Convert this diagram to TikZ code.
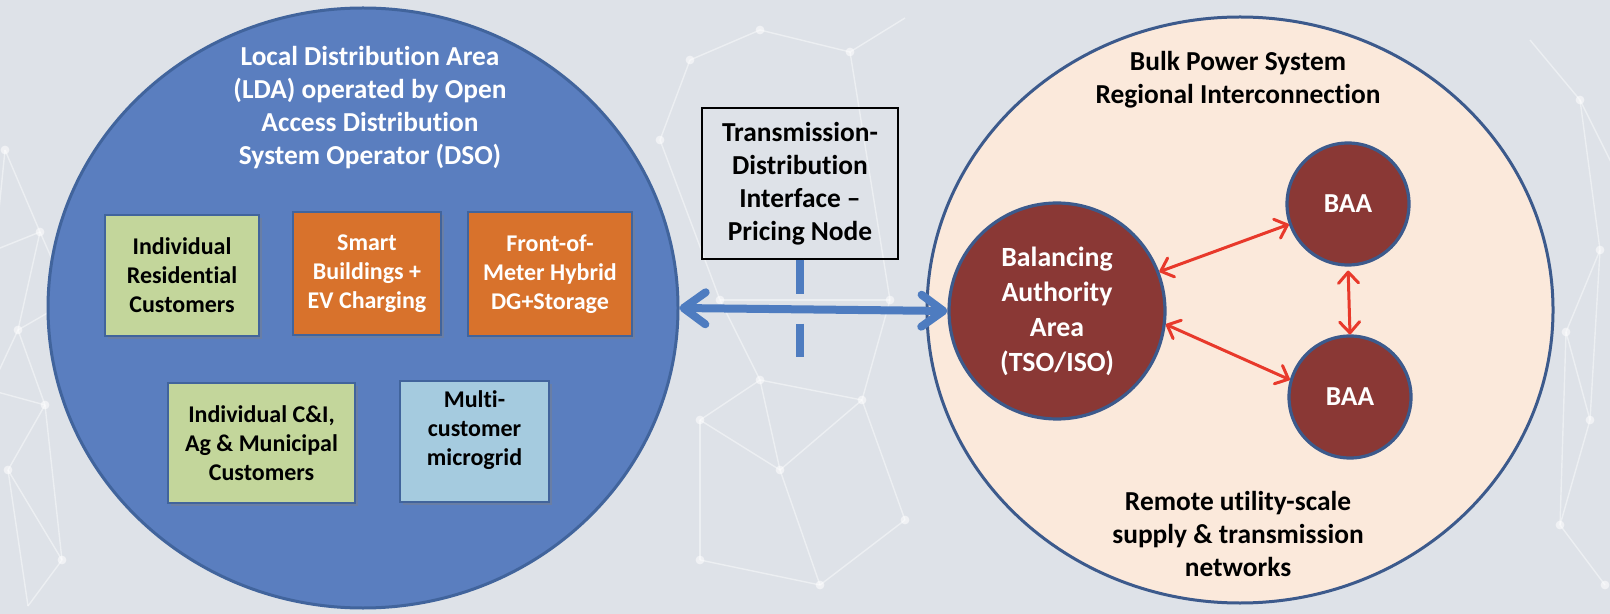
\documentclass[tikz,border=0pt]{standalone}
\usepackage{fontspec}
\setmainfont{Carlito}[Ligatures={NoCommon}]
\usetikzlibrary{arrows.meta,shapes.geometric,shadows}

\definecolor{bg}{HTML}{DEE2E8}
\definecolor{ldablue}{HTML}{5A7EBF}
\definecolor{ldaedge}{HTML}{41649C}
\definecolor{peach}{HTML}{FBE9DB}
\definecolor{navy}{HTML}{3C5A8C}
\definecolor{maroon}{HTML}{8A3835}
\definecolor{boxgreen}{HTML}{C3D69B}
\definecolor{boxorange}{HTML}{D8722C}
\definecolor{boxblue}{HTML}{A5CBDF}
\definecolor{arrowred}{HTML}{E8392B}
\definecolor{arrowblue}{HTML}{4E7CC0}

\begin{document}
\begin{tikzpicture}[x=0.5pt,y=-0.5pt,
  bigtext/.style={font=\fontsize{13.7}{16.5}\selectfont\bfseries, align=center},
  boxtext/.style={font=\fontsize{12}{14.5}\selectfont\bfseries, align=center},
  area/.style={ellipse, draw=navy, line width=1.5pt, inner sep=0pt},
  member/.style={rectangle, draw=ldaedge, line width=1pt, inner sep=0pt, boxtext,
    drop shadow={shadow xshift=1.5pt, shadow yshift=-1.5pt, opacity=0.4}},
  baa/.style={circle, fill=maroon, draw=navy, line width=1.6pt, inner sep=0pt,
    text=white, bigtext},
  redlink/.style={draw=arrowred, line width=1.5pt,
    {Straight Barb[length=5.5pt,width=10pt,round]}-{Straight Barb[length=5.5pt,width=10pt,round]}},
  bluelink/.style={draw=arrowblue, line width=4pt,
    {Straight Barb[length=11pt,width=16pt,round]}-{Straight Barb[length=11pt,width=16pt,round]}},
  netline/.style={draw=white, line width=0.7pt, opacity=0.45},
  netdot/.style={fill=white, opacity=0.55}
]
% canvas
\useasboundingbox (0,0) rectangle (1610,614);
\fill[bg] (0,0) rectangle (1610,614);

% faint network in the background
\begin{scope}
\clip (0,0) rectangle (1610,614);
\foreach \n/\x/\y in {a1/5/150, a2/40/232, a3/18/330, a4/45/405, a5/8/470, a6/62/560,
  a7/28/606, a8/-10/390, a9/70/300, a10/-5/250,
  m1/690/60, m2/760/30, m3/850/52, m4/905/18, m5/720/300, m6/700/420, m7/780/470,
  m8/862/400, m9/905/520, m10/820/585, m11/700/560, m12/760/380, m13/660/140, m14/890/300,
  r1/1580/100, r2/1600/250, r3/1566/332, r4/1590/420, r5/1560/525, r6/1605/585,
  r7/1530/40, r8/1620/180}
  \coordinate (\n) at (\x,\y);
\foreach \p/\q in {a1/a2, a2/a3, a3/a4, a4/a5, a5/a6, a6/a7, a8/a3, a8/a4, a2/a10,
  a9/a2, a9/a3, a4/a6, a1/a10, a5/a7,
  m1/m2, m2/m3, m3/m4, m1/m13, m13/m5, m5/m12, m12/m6, m6/m7, m7/m8, m8/m9, m9/m10,
  m10/m11, m11/m6, m12/m8, m14/m8, m5/m14, m3/m14, m7/m10, m12/m7,
  r7/r1, r1/r8, r1/r2, r2/r3, r3/r4, r4/r5, r5/r6, r3/r5, r2/r4}
  \draw[netline] (\p) -- (\q);
\foreach \n in {a1,a2,a3,a4,a5,a6,a9,m1,m2,m3,m5,m6,m7,m8,m9,m10,m11,m12,m13,m14,
  r1,r2,r3,r4,r5,r6}
  \fill[netdot] (\n) circle (2.2pt);
\end{scope}

% ---------------- Local distribution area ----------------
\node[area, fill=ldablue, draw=ldaedge, minimum width=315pt, minimum height=300pt]
  (lda) at (363,308) {};
\node[bigtext, text=white] (ldatitle) at (370,108)
  {Local Distribution Area\\(LDA) operated by Open\\Access Distribution\\System Operator (DSO)};

\node[member, fill=boxgreen, minimum width=77pt, minimum height=60.5pt]
  (res) at (182,275.5) {Individual\\Residential\\Customers};
\node[member, fill=boxorange, text=white, minimum width=74pt, minimum height=61.5pt]
  (smart) at (367,273.5) {Smart\\Buildings +\\EV Charging};
\node[member, fill=boxorange, text=white, minimum width=82pt, minimum height=62pt]
  (front) at (550,274) {Front-of-\\Meter Hybrid\\DG+Storage};
\node[member, fill=boxgreen, minimum width=93.5pt, minimum height=60pt]
  (cni) at (261.5,443) {Individual C\&I,\\Ag \& Municipal\\Customers};
\node[member, fill=boxblue, minimum width=74.5pt, minimum height=60.5pt]
  (micro) at (474.5,441.5) {};
\node[boxtext] (microtext) at ([yshift=5.8pt]micro.center) {Multi-\\customer\\microgrid};

% ---------------- Bulk power system ----------------
\node[area, fill=peach, minimum width=313pt, minimum height=293pt]
  (bulk) at (1240,310) {};
\node[bigtext] (bulktitle) at (1238,80)
  {Bulk Power System\\Regional Interconnection};
\node[bigtext] (bulkfoot) at (1238,534)
  {Remote utility-scale\\supply \& transmission\\networks};

\node[baa, minimum size=108pt, font=\fontsize{13.9}{17.5}\selectfont\bfseries]
  (tso) at (1057,311) {Balancing\\Authority\\Area\\(TSO/ISO)};
\node[baa, minimum size=61pt] (baa1) at (1348,204) {BAA};
\node[baa, minimum size=61pt] (baa2) at (1350,397) {BAA};

\draw[redlink] (tso.21) -- (baa1.199);
\draw[redlink] (tso.-7) -- (baa2.164);
\draw[redlink, shorten <=2pt] (baa1.south) -- (baa2.north);

% ---------------- Interface ----------------
\node[draw=black, line width=0.6pt, minimum width=98pt, minimum height=75.5pt,
  inner sep=0pt, bigtext] (iface) at (800,183.5)
  {Transmission-\\Distribution\\Interface –\\Pricing Node};
\coordinate (dashend) at (801,357);
\draw[arrowblue, line width=4pt, dash pattern=on 17pt off 15pt]
  (iface.south) -- (iface.south |- dashend);
\draw[bluelink] (lda.east) -- (tso.west);
\end{tikzpicture}
\end{document}
